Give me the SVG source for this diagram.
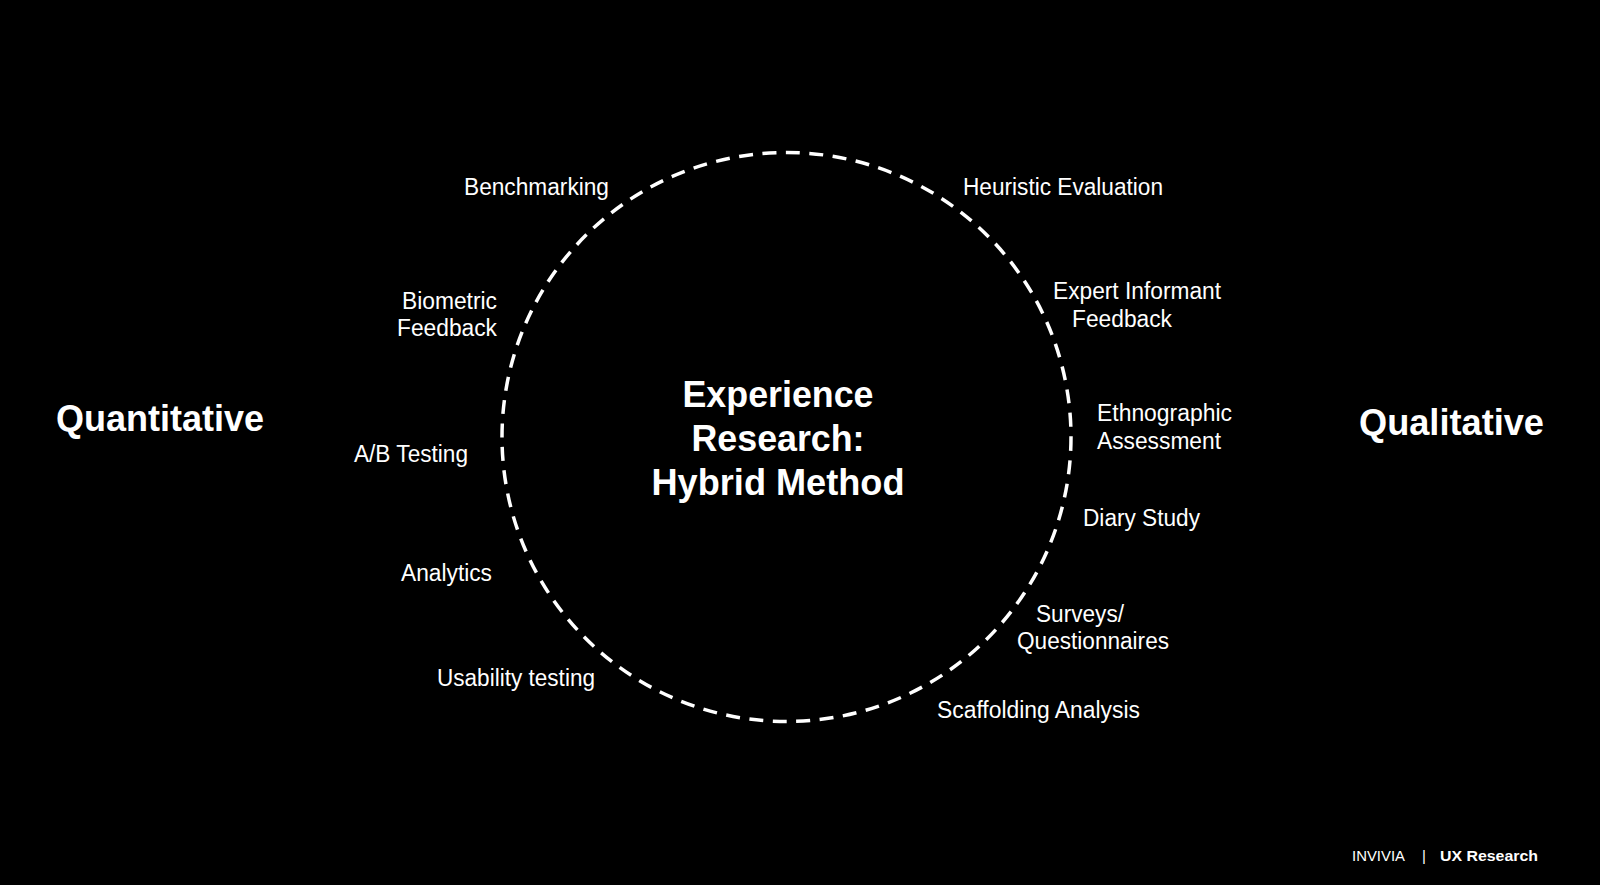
<svg xmlns="http://www.w3.org/2000/svg" width="1600" height="885" viewBox="0 0 1600 885">
<style>
.lbl{font-family:"Liberation Sans Narrow","Liberation Sans",Arial,sans-serif;font-size:23px;fill:#fff}
.ttl{font-family:"Liberation Sans",Arial,sans-serif;font-size:36px;font-weight:bold;fill:#fff}
.side{font-family:"Liberation Sans",Arial,sans-serif;font-size:36px;font-weight:bold;fill:#fff}
.foot{font-family:"Liberation Sans",Arial,sans-serif;font-size:15px;fill:#fff}
</style>
<rect x="0" y="0" width="1600" height="885" fill="#000"/>
<g id="connectors">
<circle cx="786.5" cy="437" r="284.5" fill="none" stroke="#fff" stroke-width="3.5" stroke-dasharray="14 9.5"/>
</g>
<g id="center">
<text class="ttl" x="778" y="407" text-anchor="middle" textLength="191" lengthAdjust="spacingAndGlyphs">Experience</text>
<text class="ttl" x="778" y="451" text-anchor="middle" textLength="173" lengthAdjust="spacingAndGlyphs">Research:</text>
<text class="ttl" x="778" y="495" text-anchor="middle" textLength="253" lengthAdjust="spacingAndGlyphs">Hybrid Method</text>
</g>
<g id="quantitative"><text class="side" x="56" y="431" textLength="208" lengthAdjust="spacingAndGlyphs">Quantitative</text></g>
<g id="qualitative"><text class="side" x="1359" y="435" textLength="185" lengthAdjust="spacingAndGlyphs">Qualitative</text></g>
<g id="benchmarking"><text class="lbl" x="464" y="195" textLength="145" lengthAdjust="spacingAndGlyphs">Benchmarking</text></g>
<g id="biometric-feedback">
<text class="lbl" x="402" y="309" textLength="95" lengthAdjust="spacingAndGlyphs">Biometric</text>
<text class="lbl" x="397" y="336" textLength="100" lengthAdjust="spacingAndGlyphs">Feedback</text>
</g>
<g id="ab-testing"><text class="lbl" x="354" y="462" textLength="114" lengthAdjust="spacingAndGlyphs">A/B Testing</text></g>
<g id="analytics"><text class="lbl" x="401" y="581" textLength="91" lengthAdjust="spacingAndGlyphs">Analytics</text></g>
<g id="usability-testing"><text class="lbl" x="437" y="686" textLength="158" lengthAdjust="spacingAndGlyphs">Usability testing</text></g>
<g id="heuristic-evaluation"><text class="lbl" x="963" y="195" textLength="200" lengthAdjust="spacingAndGlyphs">Heuristic Evaluation</text></g>
<g id="expert-informant-feedback">
<text class="lbl" x="1053" y="299" textLength="168" lengthAdjust="spacingAndGlyphs">Expert Informant</text>
<text class="lbl" x="1072" y="327" textLength="100" lengthAdjust="spacingAndGlyphs">Feedback</text>
</g>
<g id="ethnographic-assessment">
<text class="lbl" x="1097" y="421" textLength="135" lengthAdjust="spacingAndGlyphs">Ethnographic</text>
<text class="lbl" x="1097" y="449" textLength="124" lengthAdjust="spacingAndGlyphs">Assessment</text>
</g>
<g id="diary-study"><text class="lbl" x="1083" y="526" textLength="117" lengthAdjust="spacingAndGlyphs">Diary Study</text></g>
<g id="surveys-questionnaires">
<text class="lbl" x="1036" y="622" textLength="88" lengthAdjust="spacingAndGlyphs">Surveys/</text>
<text class="lbl" x="1017" y="649" textLength="152" lengthAdjust="spacingAndGlyphs">Questionnaires</text>
</g>
<g id="scaffolding-analysis"><text class="lbl" x="937" y="718" textLength="203" lengthAdjust="spacingAndGlyphs">Scaffolding Analysis</text></g>
<g id="footer">
<text class="foot" x="1352" y="861" textLength="53" lengthAdjust="spacingAndGlyphs">INVIVIA</text>
<text class="foot" x="1422" y="861">|</text>
<text class="foot" x="1440" y="861" font-weight="bold" textLength="98" lengthAdjust="spacingAndGlyphs">UX Research</text>
</g>
</svg>
